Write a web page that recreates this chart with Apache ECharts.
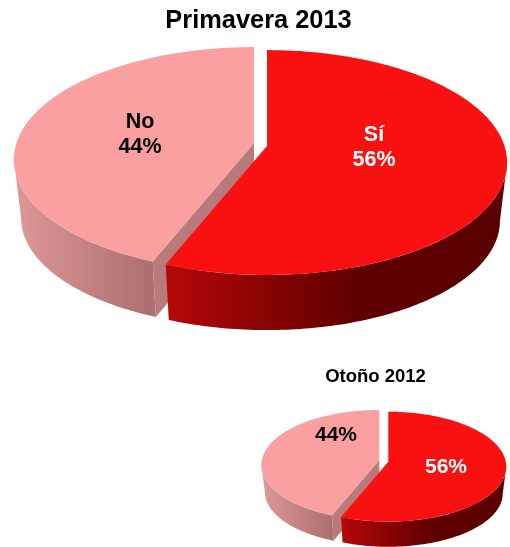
<!DOCTYPE html>
<html>
<head>
<meta charset="utf-8">
<style>
  html, body { margin: 0; background: #fff; }
  #chart { width: 510px; height: 547px; }
</style>
<script src="https://cdn.jsdelivr.net/npm/echarts@6/dist/echarts.min.js"></script>
</head>
<body>
<div id="chart"></div>
<script>
const categories = ['Sí', 'No'];
const primavera2013 = [56, 44];
const otono2012 = [56, 44];
const titles = ['Primavera 2013', 'Otoño 2012'];

// perspective pie settings, p = how much the near side grows
const bigPie = {
  x: 267, y: 146, a: 237.5, b: 110, p: 0.147, depth: 59, shrink: 0.97,
  burst: [-13, -3], font: 'bold 21.5px "Liberation Sans"', lineHeight: 25,
  labels: [[374, 148], [140, 134.5]], showName: true
};
const smallPie = {
  x: 388.3, y: 461.7, a: 117.5, b: 54.5, p: 0.09, depth: 27, shrink: 0.97,
  burst: [-9, -1.7], font: 'bold 21px "Liberation Sans"', lineHeight: 24,
  labels: [[446, 467], [336, 435]], showName: false
};

const topColors = ['#f91111', '#fba0a0'];
const textColors = ['#fff', '#000'];
const wallStops = [
  [{ offset: 0, color: '#b50808' }, { offset: 0.3, color: '#860303' }, { offset: 0.55, color: '#600000' }, { offset: 1, color: '#5a0000' }],
  [{ offset: 0, color: '#db9696' }, { offset: 1, color: '#ad6f6f' }]
];
const cutColor = '#b87a7a';

function point(pie, deg, lower) {
  const t = deg * Math.PI / 180;
  const w = 1 + pie.p * Math.cos(t);
  const k = lower ? pie.shrink : 1;
  return [
    pie.x + k * pie.a * Math.sin(t) / w,
    pie.y + (lower ? pie.depth : 0) - k * pie.b * Math.cos(t) / w
  ];
}

function arc(pie, from, to, lower) {
  const pts = [];
  const steps = Math.ceil(Math.abs(to - from));
  for (let i = 0; i <= steps; i++) {
    pts.push(point(pie, from + (to - from) * i / steps, lower));
  }
  return pts;
}

function pieSeries(pie, values) {
  const total = values.reduce((s, v) => s + v, 0);
  let acc = 0;
  const rows = values.map((v, i) => {
    const row = { value: [v, acc, i] };
    acc += v;
    return row;
  });
  // angle where the outline is widest, the wall stops there
  const edge = Math.acos(-pie.p) * 180 / Math.PI;
  return {
    type: 'custom',
    coordinateSystem: 'none',
    silent: true,
    animation: false,
    // pale slice goes first, the red one sits over its cut face
    data: rows.reverse(),
    renderItem: function (params, api) {
      const v = api.value(0), i = api.value(2);
      const from = api.value(1) / total * 360;
      const to = from + v / total * 360;
      const off = i === 0 ? [0, 0] : pie.burst;
      const p = Object.assign({}, pie, { x: pie.x + off[0], y: pie.y + off[1] });

      const wallFrom = Math.max(from, edge);
      const wallTo = Math.min(to, 360 - edge);
      const wallPts = arc(p, wallFrom, wallTo, false).concat(arc(p, wallTo, wallFrom, true));
      const x0 = point(p, wallFrom, false)[0];
      const x1 = point(p, wallTo, true)[0];

      const children = [{
        type: 'polygon',
        shape: { points: wallPts },
        style: { fill: new echarts.graphic.LinearGradient(x1, 0, x0, 0, wallStops[i], true) }
      }];

      if (i === 1) {
        const tip = point(p, from, false), tipLow = point(p, from, true);
        children.push({
          type: 'polygon',
          shape: { points: [[p.x, p.y], tip, tipLow, [p.x, p.y + p.depth]] },
          style: { fill: cutColor }
        });
      }

      children.push({
        type: 'polygon',
        shape: { points: [[p.x, p.y]].concat(arc(p, from, to, false)) },
        style: { fill: topColors[i] }
      });

      const pct = Math.round(v / total * 100) + '%';
      children.push({
        type: 'text',
        style: {
          x: pie.labels[i][0],
          y: pie.labels[i][1],
          text: pie.showName ? categories[i] + '\n' + pct : pct,
          font: pie.font,
          lineHeight: pie.lineHeight,
          fill: textColors[i],
          align: 'center',
          verticalAlign: 'middle'
        }
      });
      return { type: 'group', children: children };
    }
  };
}

const chart = echarts.init(document.getElementById('chart'), null, { renderer: 'canvas' });
chart.setOption({
  backgroundColor: '#fff',
  animation: false,
  title: [
    {
      text: titles[0], left: 253.5, top: 16, textAlign: 'center', textVerticalAlign: 'middle',
      textStyle: { fontFamily: 'Liberation Sans', fontWeight: 'bold', fontSize: 25.4, color: '#000' }
    },
    {
      text: titles[1], left: 370.5, top: 372, textAlign: 'center', textVerticalAlign: 'middle',
      textStyle: { fontFamily: 'Liberation Sans', fontWeight: 'bold', fontSize: 18.5, color: '#000' }
    }
  ],
  series: [pieSeries(bigPie, primavera2013), pieSeries(smallPie, otono2012)]
});
</script>
</body>
</html>
